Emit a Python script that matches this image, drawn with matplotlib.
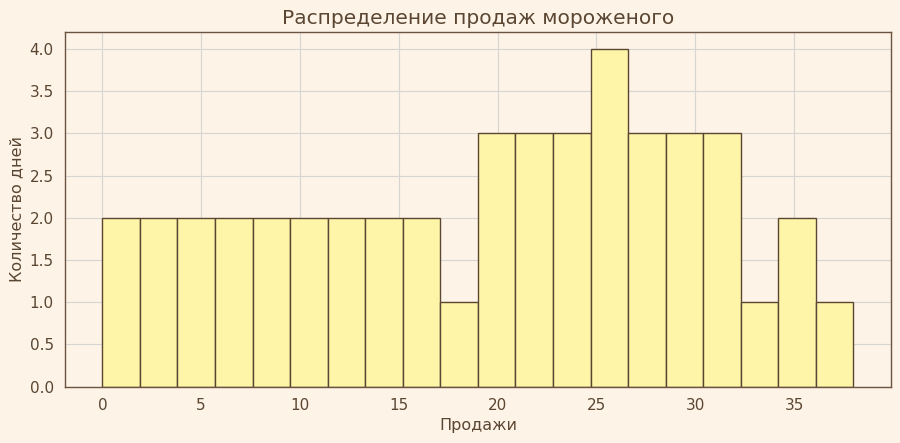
import matplotlib
matplotlib.use("Agg")
import matplotlib.pyplot as plt
import numpy as np

bin_edges = [0.0, 1.9, 3.8, 5.7, 7.6, 9.5, 11.4, 13.3, 15.2, 17.1, 19.0,
             20.9, 22.8, 24.7, 26.6, 28.5, 30.4, 32.3, 34.2, 36.1, 38.0]
counts = [2, 2, 2, 2, 2, 2, 2, 2, 2, 1, 3, 3, 3, 4, 3, 3, 3, 1, 2, 1]
x_ticks = [0, 5, 10, 15, 20, 25, 30, 35]
y_ticks = [0.0, 0.5, 1.0, 1.5, 2.0, 2.5, 3.0, 3.5, 4.0]

bg = "#fdf3e6"
txt = "#5a4632"

fig, ax = plt.subplots(figsize=(9, 4.43), dpi=100)
fig.patch.set_facecolor(bg)
ax.set_facecolor(bg)

edges = np.array(bin_edges)
ax.hist(edges[:-1], bins=edges, weights=counts, color="#fff5a8",
        edgecolor="#5a4632", linewidth=1.0, zorder=2)

ax.set_xticks(x_ticks)
ax.set_yticks(y_ticks)
ax.grid(True, color="#d8d4d4", linewidth=0.8, zorder=0)
ax.set_axisbelow(True)
ax.tick_params(length=0, labelsize=11, colors=txt, pad=8)
for s in ax.spines.values():
    s.set_color("#6b5440")
    s.set_linewidth(1.0)

ax.set_title("Распределение продаж мороженого", fontsize=14.5, color=txt)
ax.set_xlabel("Продажи", fontsize=11.5, color=txt)
ax.set_ylabel("Количество дней", fontsize=11.5, color=txt)

fig.subplots_adjust(left=0.072, right=0.99, top=0.928, bottom=0.127)
fig.savefig("out.png", dpi=100, facecolor=bg)
